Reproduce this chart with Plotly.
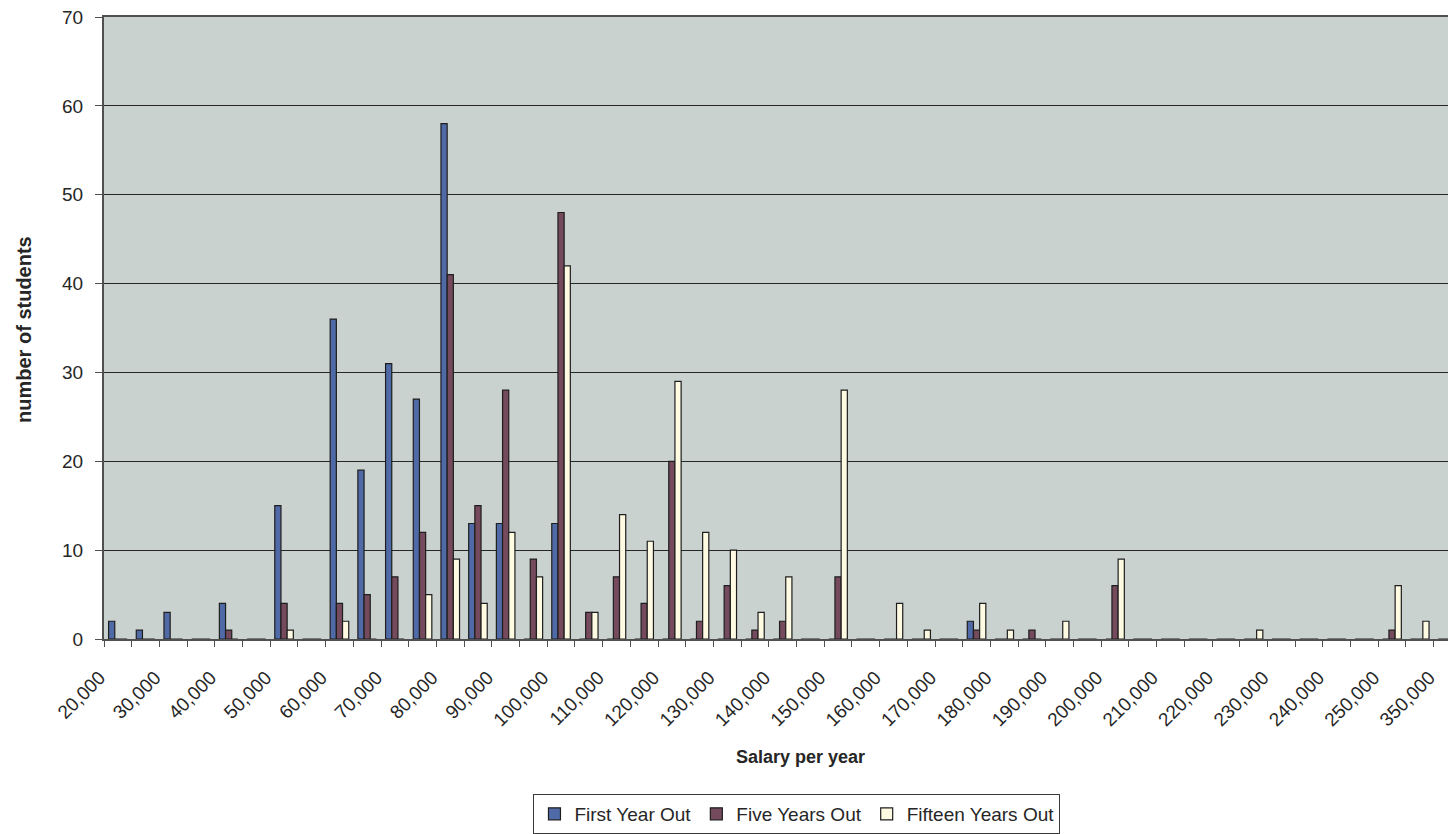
import plotly.graph_objects as go

# Salary bins (5,000 steps up to 250,000, then the top brackets)
salary_bins = [f"{v:,}" for v in range(20000, 250001, 5000)] + ["300,000", "350,000"]

# Number of students per salary bin for each cohort
first_year_out = [2, 1, 3, 0, 4, 0, 15, 0, 36, 19, 31, 27, 58, 13, 13, 0, 13, 0, 0, 0,
                  0, 0, 0, 0, 0, 0, 0, 0, 0, 0, 0, 2, 0, 0, 0, 0, 0, 0, 0, 0,
                  0, 0, 0, 0, 0, 0, 0, 0, 0]
five_years_out = [0, 0, 0, 0, 1, 0, 4, 0, 4, 5, 7, 12, 41, 15, 28, 9, 48, 3, 7, 4,
                  20, 2, 6, 1, 2, 0, 7, 0, 0, 0, 0, 1, 0, 1, 0, 0, 6, 0, 0, 0,
                  0, 0, 0, 0, 0, 0, 1, 0, 0]
fifteen_years_out = [0, 0, 0, 0, 0, 0, 1, 0, 2, 0, 0, 5, 9, 4, 12, 7, 42, 3, 14, 11,
                     29, 12, 10, 3, 7, 0, 28, 0, 4, 1, 0, 4, 1, 0, 2, 0, 9, 0, 0, 0,
                     0, 1, 0, 0, 0, 0, 6, 2, 0]

# Every other bin carries a label
label_idx = list(range(0, len(salary_bins), 2))
label_text = [salary_bins[i] for i in label_idx]

positions = list(range(len(salary_bins)))
font = "Liberation Sans, Arial, sans-serif"
outline = dict(color="#1e1e1e", width=1.2)

fig = go.Figure()
fig.add_trace(go.Bar(name="First Year Out", x=positions, y=first_year_out,
                     marker=dict(color="#4f6aa6", line=outline)))
fig.add_trace(go.Bar(name="Five Years Out", x=positions, y=five_years_out,
                     marker=dict(color="#754a5c", line=outline)))
fig.add_trace(go.Bar(name="Fifteen Years Out", x=positions, y=fifteen_years_out,
                     marker=dict(color="#fffbe2", line=outline)))

fig.update_layout(
    width=1448, height=834,
    margin=dict(l=104, r=0, t=17, b=189),
    paper_bgcolor="white",
    plot_bgcolor="#cad2d0",
    barmode="group",
    bargap=0.33,
    bargroupgap=0,
    font=dict(family=font, size=19, color="#262626"),
    showlegend=True,
    legend=dict(
        orientation="h",
        x=0.5156, xanchor="center",
        y=-0.25, yanchor="top",
        bgcolor="white",
        bordercolor="#3a3a3a", borderwidth=1,
        font=dict(size=19, color="#262626"),
        itemwidth=30,
        tracegroupgap=0,
    ),
)

fig.update_xaxes(
    range=[-0.5, 48.02],
    automargin=False,
    tickmode="array", tickvals=label_idx, ticktext=label_text,
    tickangle=-45,
    ticks="", ticklen=0,
    ticklabeloverflow="allow",
    ticklabelshift=-18,
    ticklabelstandoff=18,
    tickfont=dict(size=19, family=font, color="#262626"),
    showgrid=False, zeroline=False,
    showline=True, linecolor="#505050", linewidth=2, mirror=True,
    minor=dict(tick0=-0.5, dtick=1, ticks="outside", ticklen=6,
               tickcolor="#505050", tickwidth=1, showgrid=False),
)

fig.update_yaxes(
    range=[0, 70], dtick=10,
    automargin=False,
    ticks="outside", ticklen=7, tickcolor="#505050",
    ticklabelstandoff=8,
    tickfont=dict(size=19, family=font, color="#262626"),
    showgrid=True, gridcolor="#262626", gridwidth=1.2,
    zeroline=False,
    showline=True, linecolor="#505050", linewidth=2,
)

# Axis titles
fig.add_annotation(text="<b>Salary per year</b>", xref="paper", yref="paper",
                   x=0.518, y=-0.19, xanchor="center", yanchor="middle",
                   showarrow=False, font=dict(size=18, family=font, color="#262626"))
fig.add_annotation(text="<b>number of students</b>", xref="paper", yref="paper",
                   x=-0.059, y=0.498, xanchor="center", yanchor="middle",
                   textangle=-90, showarrow=False,
                   font=dict(size=20, family=font, color="#262626"))

fig.write_html("out.html")
